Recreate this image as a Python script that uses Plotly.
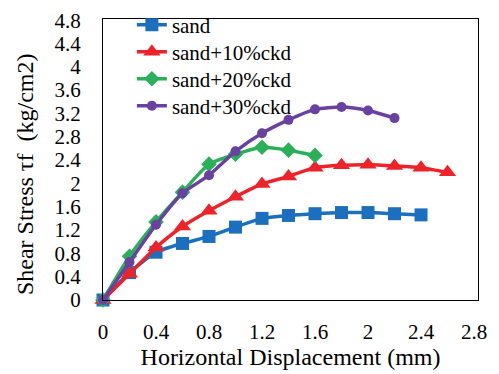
import plotly.graph_objects as go

# Horizontal displacement (mm) at each reading
disp_sand = [0, 0.2, 0.4, 0.6, 0.8, 1.0, 1.2, 1.4, 1.6, 1.8, 2.0, 2.2, 2.4]
disp_10 = [0, 0.2, 0.4, 0.6, 0.8, 1.0, 1.2, 1.4, 1.6, 1.8, 2.0, 2.2, 2.4, 2.6]
disp_20 = [0, 0.2, 0.4, 0.6, 0.8, 1.0, 1.2, 1.4, 1.6]
disp_30 = [0, 0.2, 0.4, 0.6, 0.8, 1.0, 1.2, 1.4, 1.6, 1.8, 2.0, 2.2]

# Shear stress (kg/cm2)
tau_sand = [0, 0.47, 0.82, 0.97, 1.09, 1.25, 1.4, 1.45, 1.48, 1.5, 1.5, 1.48, 1.46]
tau_10 = [0, 0.45, 0.9, 1.26, 1.53, 1.77, 1.99, 2.12, 2.27, 2.31, 2.32, 2.3, 2.27, 2.19]
tau_20 = [0, 0.75, 1.34, 1.85, 2.33, 2.5, 2.62, 2.57, 2.48]
tau_30 = [0, 0.65, 1.29, 1.83, 2.14, 2.55, 2.86, 3.09, 3.27, 3.31, 3.25, 3.12]

names = ["sand", "sand+10%ckd", "sand+20%ckd", "sand+30%ckd"]
colors = ["#1b6fbe", "#ee2229", "#2bb05a", "#6941a0"]
symbols = ["square", "triangle-up", "diamond", "circle"]
sizes = [13, 15, 12, 10]
xs = [disp_sand, disp_10, disp_20, disp_30]
ys = [tau_sand, tau_10, tau_20, tau_30]

tick_vals_x = [0, 0.4, 0.8, 1.2, 1.6, 2.0, 2.4, 2.8]
tick_text_x = ["0", "0.4", "0.8", "1.2", "1.6", "2", "2.4", "2.8"]
tick_vals_y = [0, 0.4, 0.8, 1.2, 1.6, 2.0, 2.4, 2.8, 3.2, 3.6, 4.0, 4.4, 4.8]
tick_text_y = ["0", "0.4", "0.8", "1.2", "1.6", "2", "2.4", "2.8", "3.2", "3.6", "4", "4.4", "4.8"]

serif = "Liberation Serif"
legend_ids = ["legend", "legend2", "legend3", "legend4"]
legend_rows = [0.978, 0.882, 0.786, 0.690]  # one row per series, stacked top-left

fig = go.Figure()
for x, y, n, c, s, sz, lg in zip(xs, ys, names, colors, symbols, sizes, legend_ids):
    fig.add_trace(go.Scatter(
        x=x, y=y, name=n, mode="lines+markers", legend=lg,
        line=dict(color=c, width=3.5, shape="spline", smoothing=0.6),
        marker=dict(color=c, symbol=s, size=sz),
        cliponaxis=False,
    ))

legend_style = {}
for lg, ly in zip(legend_ids, legend_rows):
    legend_style[lg] = dict(
        x=0.077, y=ly, xanchor="left", yanchor="middle",
        bgcolor="rgba(0,0,0,0)", borderwidth=0,
        font=dict(family=serif, size=21, color="black"),
    )

fig.update_layout(
    width=499, height=374,
    margin=dict(l=103, r=21, t=19, b=74, autoexpand=False),
    paper_bgcolor="white", plot_bgcolor="white",
    font=dict(family=serif, color="black", size=21),
    showlegend=True,
    **legend_style,
    xaxis=dict(
        range=[0, 2.83], tickvals=tick_vals_x, ticktext=tick_text_x,
        showgrid=False, zeroline=False, showline=True, linecolor="black",
        linewidth=1, mirror=True, ticks="", ticklabelstandoff=13,
        automargin=False,
        tickfont=dict(family=serif, size=21, color="black"),
        title=dict(text="Horizontal Displacement (mm)",
                   font=dict(family=serif, size=24, color="black"), standoff=4),
    ),
    yaxis=dict(
        range=[0, 4.82], tickvals=tick_vals_y, ticktext=tick_text_y,
        showgrid=False, zeroline=False, showline=True, linecolor="black",
        linewidth=1, mirror=True, ticks="", ticklabelstandoff=17,
        automargin=False,
        tickfont=dict(family=serif, size=21, color="black"),
    ),
    annotations=[dict(
        text="Shear Stress τf  (kg/cm2)", textangle=-90,
        xref="paper", yref="paper", x=-0.208, y=0.448,
        xanchor="center", yanchor="middle", showarrow=False,
        font=dict(family=serif, size=24, color="black"),
    )],
)

fig.write_html("out.html")
